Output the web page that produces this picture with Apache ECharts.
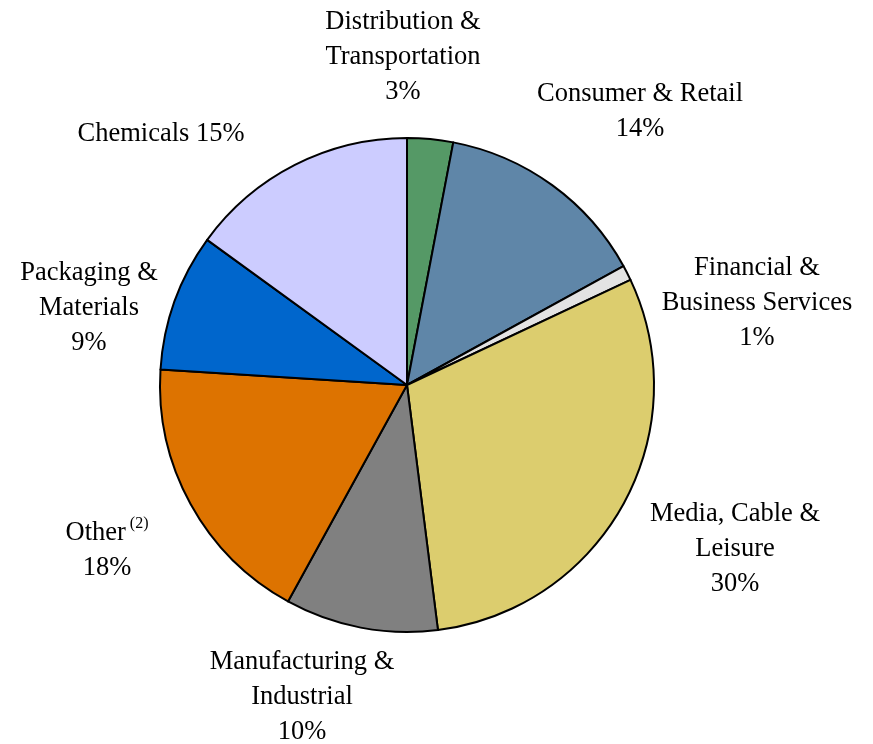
<!DOCTYPE html>
<html>
<head>
<meta charset="utf-8">
<script src="https://cdn.jsdelivr.net/npm/echarts@6/dist/echarts.min.js"></script>
<style>
  html, body { margin: 0; padding: 0; background: #fff; }
  #chart { width: 873px; height: 744px; }
</style>
</head>
<body>
<div id="chart"></div>
<script>
// Sector mix, clockwise from 12 o'clock
const sectors = [
  'Distribution &\nTransportation',
  'Consumer & Retail',
  'Financial &\nBusiness Services',
  'Media, Cable &\nLeisure',
  'Manufacturing &\nIndustrial',
  'Other',
  'Packaging &\nMaterials',
  'Chemicals'
];
const shares = [3, 14, 1, 30, 10, 18, 9, 15];
const sliceColors = ['#559966', '#5f86a8', '#e3e3e3', '#dccd6e', '#808080', '#dd7300', '#0066cc', '#ccccff'];

// Label anchor points (label centres, px)
const labelAnchors = [
  [403, 57], [640, 112], [757, 303], [735, 549],
  [302, 697], [107, 551], [89, 308], [161, 134]
];

const chart = echarts.init(document.getElementById('chart'), null, { renderer: 'canvas' });

const fontFamily = '"Liberation Serif", "Times New Roman", serif';

chart.setOption({
  animation: false,
  backgroundColor: '#ffffff',
  series: [{
    type: 'pie',
    center: [407, 385],
    radius: [0, 247],
    startAngle: 90,
    clockwise: true,
    avoidLabelOverlap: false,
    itemStyle: { borderColor: '#000', borderWidth: 2 },
    labelLine: { show: false },
    label: {
      show: true,
      position: 'outside',
      color: '#000',
      fontFamily: fontFamily,
      fontSize: 26.5,
      lineHeight: 35,
      align: 'center',
      formatter: function (p) {
        if (p.name === 'Other') {
          return 'Other{sup|(2)}\n' + p.value + '%';
        }
        if (p.name === 'Chemicals') {
          return 'Chemicals ' + p.value + '%';
        }
        return p.name + '\n' + p.value + '%';
      },
      rich: {
        sup: {
          fontFamily: fontFamily,
          fontSize: 16,
          color: '#000',
          verticalAlign: 'top',
          padding: [0, 0, 16, 4],
          lineHeight: 35
        }
      }
    },
    labelLayout: function (params) {
      const a = labelAnchors[params.dataIndex];
      return {
        x: a[0],
        y: a[1],
        align: 'center',
        verticalAlign: 'middle'
      };
    },
    data: sectors.map(function (name, i) {
      return { name: name, value: shares[i], itemStyle: { color: sliceColors[i] } };
    })
  }]
});
</script>
</body>
</html>
